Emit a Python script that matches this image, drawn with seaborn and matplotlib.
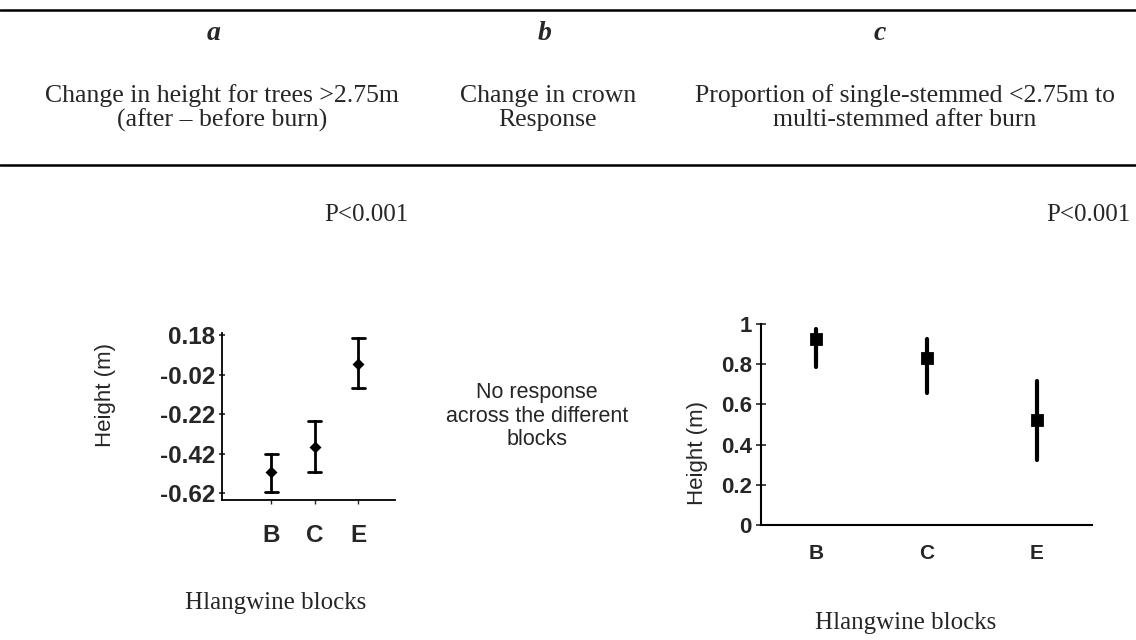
import matplotlib
matplotlib.use("Agg")
import matplotlib.pyplot as plt
from matplotlib.lines import Line2D
import numpy as np
import pandas as pd
import seaborn as sns

# ---- data -------------------------------------------------------------
blocks = ["B", "C", "E"]

# a: change in height for trees >2.75 m (after - before burn), metres
height_mean = [-0.515, -0.385, 0.035]
height_low = [-0.615, -0.515, -0.090]
height_high = [-0.420, -0.255, 0.165]
height_ticks = [-0.62, -0.42, -0.22, -0.02, 0.18]
height_ticklabels = ["-0.62", "-0.42", "-0.22", "-0.02", "0.18"]

# c: proportion of single-stemmed <2.75 m to multi-stemmed after burn
prop_mean = [0.925, 0.830, 0.522]
prop_low = [0.786, 0.657, 0.323]
prop_high = [0.975, 0.925, 0.716]
prop_ticks = [0, 0.2, 0.4, 0.6, 0.8, 1.0]
prop_ticklabels = ["0", "0.2", "0.4", "0.6", "0.8", "1"]

letters = ["a", "b", "c"]
headings = [
    ("Change in height for trees >2.75m", "(after \u2013 before burn)"),
    ("Change in crown", "Response"),
    ("Proportion of single-stemmed <2.75m to", "multi-stemmed after burn"),
]
p_label = "P<0.001"
no_response = "No response\nacross the different\nblocks"
x_title = "Hlangwine blocks"
y_title = "Height (m)"


def long_table(mean, low, high):
    """Interval ends plus point estimate per block; the median row is the estimate."""
    rows = []
    for b, m, lo, hi in zip(blocks, mean, low, high):
        for v in (lo, m, hi):
            rows.append({"block": b, "value": v})
    return pd.DataFrame(rows)


df_a = long_table(height_mean, height_low, height_high)
df_c = long_table(prop_mean, prop_low, prop_high)

# ---- figure -----------------------------------------------------------
sns.set_theme(style="white")
plt.rcParams["font.family"] = ["Liberation Sans", "DejaVu Sans"]

W, H = 1136, 640
fig = plt.figure(figsize=(W / 100, H / 100), dpi=100)
fig.patch.set_facecolor("white")


def rect(x0, y0, x1, y1):
    return [x0 / W, 1 - y1 / H, (x1 - x0) / W, (y1 - y0) / H]


def fx(x):
    return x / W


def fy(y):
    return 1 - y / H


serif = ["Liberation Serif", "DejaVu Serif"]
sans = ["Liberation Sans", "DejaVu Sans"]

# table rules
for yy in (10, 165):
    fig.add_artist(Line2D([0, 1], [fy(yy), fy(yy)], transform=fig.transFigure,
                          color="black", lw=1.8))

# column headings
letter_x = [214, 545, 880]
head_x = [222, 548, 905]
for lx, hx, letter, (l1, l2) in zip(letter_x, head_x, letters, headings):
    fig.text(fx(lx), fy(34), letter, ha="center", va="center", family=serif,
             fontsize=20, fontweight="bold", fontstyle="italic")
    fig.text(fx(hx), fy(96), l1, ha="center", va="center", family=serif, fontsize=18.5)
    fig.text(fx(hx), fy(120), l2, ha="center", va="center", family=serif, fontsize=18.5)

fig.text(fx(408), fy(215), p_label, ha="right", va="center", family=serif, fontsize=18)
fig.text(fx(1130), fy(215), p_label, ha="right", va="center", family=serif, fontsize=18)

fig.text(fx(537), fy(416), no_response, ha="center", va="center", family=sans,
         fontsize=15.5, linespacing=1.15)

# ---- panel a ----------------------------------------------------------
ax_a = fig.add_axes(rect(222, 333, 395, 500))
sns.pointplot(data=df_a, x="block", y="value", order=blocks, ax=ax_a,
              estimator="median", errorbar=lambda v: (v.min(), v.max()),
              color="black", linestyle="none", marker="D", markersize=4,
              capsize=0.3, err_kws={"linewidth": 2.0})
ax_a.set_xlim(-1.13, 2.85)
ax_a.set_ylim(-0.655, 0.19)
ax_a.set_yticks(height_ticks)
ax_a.set_yticklabels(height_ticklabels)
ax_a.set_xlabel("")
ax_a.set_ylabel("")
ax_a.tick_params(axis="y", direction="inout", length=4, width=1.2, pad=3,
                 labelsize=17.5, left=True)
ax_a.tick_params(axis="x", direction="out", length=3, width=1, pad=14,
                 labelsize=17.5, bottom=True)
for lab in ax_a.get_xticklabels() + ax_a.get_yticklabels():
    lab.set_fontweight("bold")
for s in ("top", "right"):
    ax_a.spines[s].set_visible(False)
for s in ("left", "bottom"):
    ax_a.spines[s].set_color("black")
    ax_a.spines[s].set_linewidth(1.3)
fig.text(fx(105), fy(395), y_title, rotation=90, ha="center", va="center",
         family=sans, fontsize=16)
fig.text(fx(276), fy(603), x_title, ha="center", va="center", family=serif, fontsize=18)

# ---- panel c ----------------------------------------------------------
ax_c = fig.add_axes(rect(761, 324, 1092, 525))
sns.pointplot(data=df_c, x="block", y="value", order=blocks, ax=ax_c,
              estimator="median", errorbar=lambda v: (v.min(), v.max()),
              color="black", linestyle="none", marker="s", markersize=6.5,
              capsize=0, err_kws={"linewidth": 3.0})
ax_c.set_xlim(-0.5, 2.5)
ax_c.set_ylim(0, 1)
ax_c.set_yticks(prop_ticks)
ax_c.set_yticklabels(prop_ticklabels)
ax_c.set_xlabel("")
ax_c.set_ylabel("")
ax_c.tick_params(axis="y", direction="inout", length=7, width=1.2, pad=3,
                 labelsize=16, left=True)
ax_c.tick_params(axis="x", length=0, pad=14, labelsize=15)
for lab in ax_c.get_xticklabels() + ax_c.get_yticklabels():
    lab.set_fontweight("bold")
for s in ("top", "right"):
    ax_c.spines[s].set_visible(False)
for s in ("left", "bottom"):
    ax_c.spines[s].set_color("black")
    ax_c.spines[s].set_linewidth(1.5)
for coll in ax_c.collections:
    coll.set_clip_on(False)
for ln in ax_c.lines:
    ln.set_clip_on(False)
fig.text(fx(697), fy(453), y_title, rotation=90, ha="center", va="center",
         family=sans, fontsize=16)
fig.text(fx(906), fy(623), x_title, ha="center", va="center", family=serif, fontsize=18)

fig.savefig("out.png", dpi=100, facecolor="white")
